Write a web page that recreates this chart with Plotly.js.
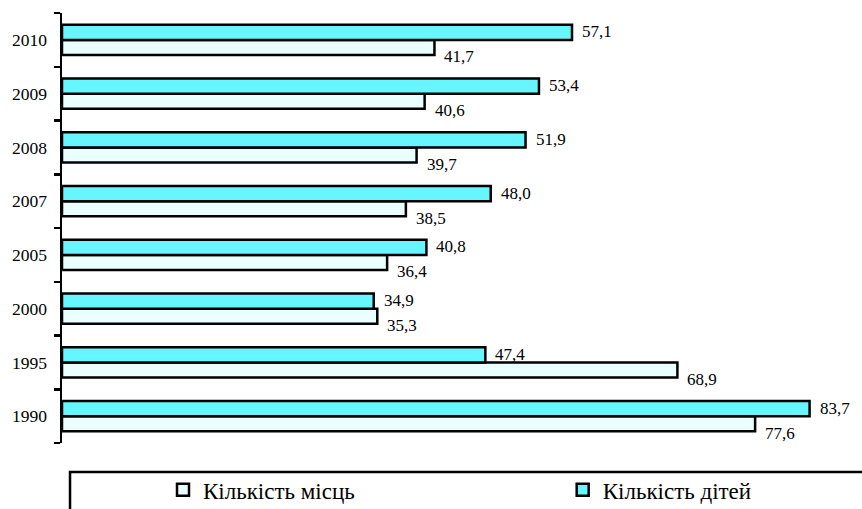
<!DOCTYPE html>
<html>
<head>
<meta charset="utf-8">
<script src="https://cdn.plot.ly/plotly-3.0.1.min.js"></script>
<style>html,body{margin:0;padding:0;background:#fff;}</style>
</head>
<body>
<div id="chart" style="width:862px;height:509px;"></div>
<script>
const years = ['1990','1995','2000','2005','2007','2008','2009','2010'];
const places = [77.6, 68.9, 35.3, 36.4, 38.5, 39.7, 40.6, 41.7];
const children = [83.7, 47.4, 34.9, 40.8, 48.0, 51.9, 53.4, 57.1];
const seriesNames = ['Кількість місць', 'Кількість дітей'];

const SERIF = 'Liberation Serif';
const fmt = v => v.toFixed(1).replace('.', ',');

const traces = [
  {type:'bar', orientation:'h', name:seriesNames[0], y:years, x:places, legend:'legend',
   marker:{color:'#eaffff', line:{color:'#000', width:2.5}}, hoverinfo:'none'},
  {type:'bar', orientation:'h', name:seriesNames[1], y:years, x:children, legend:'legend2',
   marker:{color:'#66f6ff', line:{color:'#000', width:2.5}}, hoverinfo:'none'}
];

const annotations = [];
years.forEach((yr, i) => {
  annotations.push({x:places[i], y:i, xref:'x', yref:'y', text:fmt(places[i]),
    showarrow:false, xanchor:'left', yanchor:'middle', xshift:8, yshift:-17,
    font:{family:SERIF, size:17, color:'#000'}});
  annotations.push({x:children[i], y:i, xref:'x', yref:'y', text:fmt(children[i]),
    showarrow:false, xanchor:'left', yanchor:'middle', xshift:8, yshift:8,
    font:{family:SERIF, size:17, color:'#000'}});
});

const legendFont = {family:SERIF, size:23, color:'#000'};

const layout = {
  width:862, height:509,
  margin:{l:62, r:14, t:13, b:66, autoexpand:false},
  paper_bgcolor:'#fff', plot_bgcolor:'#fff',
  barmode:'group', bargap:0.44, bargroupgap:0,
  showlegend:true,
  legend:{orientation:'h', x:0.1285, y:-0.109, xanchor:'left', yanchor:'middle',
    font:legendFont, bgcolor:'rgba(0,0,0,0)'},
  legend2:{orientation:'h', x:0.637, y:-0.109, xanchor:'left', yanchor:'middle',
    font:legendFont, bgcolor:'rgba(0,0,0,0)'},
  xaxis:{visible:false, range:[0, 88], autorange:false, fixedrange:true},
  yaxis:{type:'category', categoryorder:'array', categoryarray:years,
    range:[-0.5, years.length - 0.5], autorange:false, automargin:false,
    showline:true, linecolor:'#000', linewidth:2.5,
    ticks:'outside', tickson:'boundaries', ticklen:6, tickwidth:2.5, tickcolor:'#000',
    ticklabelstandoff:9,
    showgrid:false, zeroline:false,
    tickfont:{family:SERIF, size:17.5, color:'#000'}},
  annotations: annotations,
  shapes:[{type:'rect', xref:'paper', yref:'paper', x0:0.0102, x1:1.05, y0:-0.0674, y1:-0.2,
    line:{color:'#000', width:2.5}, fillcolor:'rgba(0,0,0,0)'}]
};

Plotly.newPlot('chart', traces, layout, {displayModeBar:false, staticPlot:true});
</script>
</body>
</html>
